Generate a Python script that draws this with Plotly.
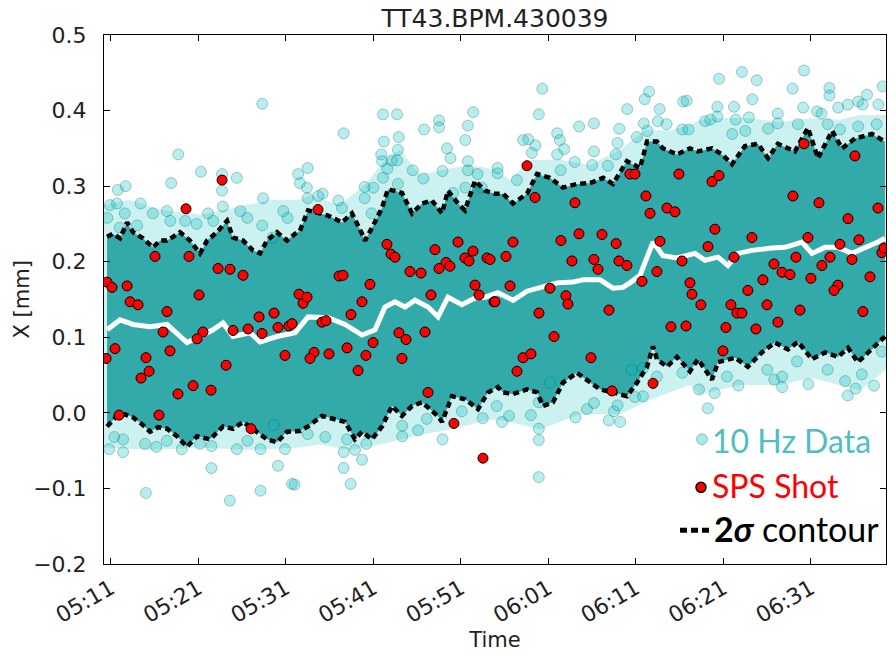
import pandas as pd
import plotly.graph_objects as go

# Time is stored as minutes after 05:11, positions in mm
START = pd.Timestamp("2016-06-14 05:11:00")

# Isolated 10 Hz readings around the dense band
hz_points = [
    (17.3, 0.409), (7.7, 0.342), (10.3, 0.319), (6.9, 0.304), (14.4, 0.311), (12.7, 0.294),
    (12.7, 0.316), (0.8, 0.295), (1.7, 0.300), (3.4, 0.277), (-0.1, 0.275), (0.7, 0.277),
    (-0.4, 0.258), (1.6, 0.264), (4.8, 0.264), (6.4, 0.267), (6.8, 0.254), (8.5, 0.254),
    (9.8, 0.250), (11.1, 0.264), (11.7, 0.254), (12.8, 0.273), (14.8, 0.267), (15.6, 0.258),
    (17.4, 0.284), (17.3, 0.248), (19.7, 0.267), (20.2, 0.258), (21.4, 0.316), (21.6, 0.304),
    (3.0, 0.248), (1.0, 0.245), (18.5, 0.232),
    (31.1, 0.395), (32.7, 0.395), (26.6, 0.370), (37.5, 0.387), (37.5, 0.378), (35.8, 0.375),
    (41.4, 0.398), (40.8, 0.380), (40.5, 0.361), (38.4, 0.350), (38.8, 0.337), (32.9, 0.365),
    (31.2, 0.359), (32.8, 0.348), (30.9, 0.342), (31.0, 0.333), (32.1, 0.334), (32.7, 0.334),
    (31.6, 0.323), (31.1, 0.311), (34.5, 0.321), (35.7, 0.310), (37.9, 0.320), (40.8, 0.333),
    (40.8, 0.321), (41.9, 0.316), (44.2, 0.324), (22.5, 0.324), (22.4, 0.298), (29.0, 0.299),
    (30.0, 0.298), (29.0, 0.284), (26.0, 0.281), (26.4, 0.271), (24.2, 0.290), (23.7, 0.287),
    (22.5, 0.284), (29.8, 0.264), (32.8, 0.303), (39.1, 0.291), (40.5, 0.298), (42.4, 0.298),
    (49.3, 0.429), (48.9, 0.395), (53.5, 0.379), (55.2, 0.383), (59.0, 0.402), (58.1, 0.376),
    (61.5, 0.425), (61.0, 0.415), (62.7, 0.402), (60.9, 0.383), (62.5, 0.386), (63.5, 0.382),
    (65.3, 0.375), (65.4, 0.412), (51.0, 0.370), (51.3, 0.361), (51.8, 0.349), (51.0, 0.342),
    (47.1, 0.361), (47.7, 0.362), (48.5, 0.354), (48.1, 0.344), (55.2, 0.346), (57.9, 0.357),
    (57.7, 0.342), (53.0, 0.332), (55.0, 0.328), (56.8, 0.327), (44.2, 0.317), (46.4, 0.308),
    (51.4, 0.321), (60.1, 0.365), (61.3, 0.373),
    (69.5, 0.442), (72.1, 0.451), (73.8, 0.440), (79.2, 0.453), (77.9, 0.429), (82.1, 0.430),
    (82.1, 0.420), (86.4, 0.421), (88.2, 0.432), (65.8, 0.413), (73.3, 0.415), (69.3, 0.405),
    (71.2, 0.405), (79.1, 0.404), (76.2, 0.396), (80.7, 0.399), (81.2, 0.396), (83.1, 0.404),
    (84.2, 0.408), (85.4, 0.412), (85.9, 0.408), (87.7, 0.408), (67.9, 0.386), (68.5, 0.388),
    (69.3, 0.392), (71.4, 0.388), (72.9, 0.391), (76.2, 0.383), (75.1, 0.376), (78.5, 0.382),
    (81.9, 0.382), (83.3, 0.375), (85.4, 0.379), (87.5, 0.382), (66.0, 0.375), (71.0, 0.369),
    (72.5, 0.373),
    (-0.2, -0.048), (1.4, -0.052), (0.4, -0.032), (1.4, -0.035), (3.9, -0.041), (5.2, -0.045),
    (6.4, -0.037), (8.1, -0.048), (10.2, -0.041), (11.5, -0.044), (11.5, -0.073), (4.0, -0.106),
    (13.6, -0.116), (14.4, -0.048), (15.6, -0.037), (17.1, -0.048), (17.1, -0.103), (18.6, -0.016),
    (19.1, -0.070), (19.9, -0.048), (20.7, -0.094), (21.0, -0.095), (27.4, -0.094), (26.6, -0.073),
    (28.7, -0.062), (26.6, -0.052), (27.9, -0.049), (29.2, -0.041), (27.0, -0.035), (24.5, -0.032),
    (22.5, -0.028), (33.3, -0.031), (35.1, -0.023), (37.9, -0.035), (36.1, -0.008), (33.3, -0.017),
    (40.1, 0.002), (42.5, -0.007), (44.1, 0.009), (48.9, -0.085), (48.9, -0.036), (48.9, -0.021),
    (44.7, -0.012), (45.5, -0.004), (48.0, -0.003), (48.9, 0.014), (53.1, -0.006), (54.4, 0.005),
    (55.2, 0.013), (56.9, -0.010), (58.2, -0.012), (57.5, 0.002), (57.9, 0.010), (59.9, 0.021),
    (60.8, 0.022), (59.5, 0.057), (60.8, 0.059), (62.4, 0.048), (65.3, 0.053), (50.2, 0.040),
    (68.2, 0.006), (67.2, 0.031), (69.0, 0.026), (70.4, 0.048), (71.7, 0.036), (75.8, 0.044),
    (76.7, 0.048), (76.7, 0.034), (78.4, 0.068), (79.7, 0.038), (81.9, 0.057), (83.9, 0.042),
    (85.1, 0.032), (84.2, 0.023), (87.2, 0.036), (85.8, 0.051), (88.1, 0.081), (75.0, 0.057),
]

# Outer edge of the sparse 10 Hz halo, above and below the band
halo_top = [
    (-0.78, 0.275), (2.19, 0.282), (5.62, 0.269), (10.19, 0.262), (14.76, 0.273), (18.19, 0.282),
    (21.61, 0.282), (22.76, 0.288), (26.18, 0.275), (29.04, 0.302), (31.33, 0.335), (33.03, 0.348),
    (35.33, 0.315), (38.18, 0.322), (41.04, 0.328), (43.89, 0.322), (45.60, 0.308), (47.89, 0.335),
    (51.31, 0.335), (54.74, 0.328), (58.17, 0.348), (61.02, 0.374), (63.88, 0.374), (66.17, 0.381),
    (67.31, 0.388), (69.59, 0.390), (73.02, 0.390), (76.45, 0.385), (79.87, 0.390), (83.30, 0.388),
    (85.59, 0.394), (88.57, 0.394),
]
halo_bottom = [
    (-0.78, -0.046), (4.48, -0.049), (10.19, -0.046), (15.90, -0.049), (21.61, -0.046), (23.90, -0.042),
    (27.33, -0.049), (30.76, -0.042), (35.33, -0.029), (38.76, -0.022), (43.33, -0.009), (44.47, -0.009),
    (49.04, -0.022), (53.61, -0.002), (58.17, -0.002), (61.60, 0.017), (66.17, 0.037), (67.31, 0.024),
    (71.88, 0.037), (76.45, 0.037), (80.02, 0.046), (85.59, 0.030), (88.57, 0.057),
]

# Upper 2-sigma contour
upper = [
    (-0.43, 0.233), (0.25, 0.237), (1.05, 0.231), (1.86, 0.252), (2.54, 0.239), (3.67, 0.231),
    (4.82, 0.219), (5.62, 0.228), (6.42, 0.228), (7.10, 0.233), (7.90, 0.239), (9.04, 0.228),
    (10.19, 0.211), (11.00, 0.228), (12.13, 0.239), (13.28, 0.254), (13.96, 0.232), (15.11, 0.228),
    (16.24, 0.215), (17.05, 0.211), (17.84, 0.228), (18.99, 0.239), (20.13, 0.228), (21.05, 0.237),
    (21.61, 0.241), (22.53, 0.268), (23.67, 0.265), (24.82, 0.261), (26.42, 0.252), (27.55, 0.264),
    (28.70, 0.237), (29.04, 0.228), (29.84, 0.245), (30.98, 0.271), (31.66, 0.296), (32.47, 0.294),
    (33.27, 0.291), (34.41, 0.264), (35.56, 0.277), (36.69, 0.281), (37.84, 0.264), (38.52, 0.294),
    (39.67, 0.277), (40.46, 0.268), (41.61, 0.307), (42.76, 0.294), (43.89, 0.290), (44.81, 0.290),
    (45.95, 0.277), (47.55, 0.290), (48.70, 0.316), (50.17, 0.311), (51.66, 0.298), (53.26, 0.303),
    (54.75, 0.304), (56.24, 0.311), (57.37, 0.303), (58.97, 0.333), (60.46, 0.324), (61.27, 0.359),
    (62.40, 0.359), (63.08, 0.350), (64.69, 0.342), (66.17, 0.350), (67.08, 0.346), (68.69, 0.350),
    (69.83, 0.342), (70.97, 0.329), (72.45, 0.353), (73.94, 0.356), (75.09, 0.337), (76.22, 0.356),
    (78.16, 0.346), (79.65, 0.377), (80.80, 0.337), (82.41, 0.373), (83.55, 0.350), (85.02, 0.363),
    (86.97, 0.369), (88.45, 0.359),
]

# Lower 2-sigma contour
lower = [
    (-0.43, -0.018), (0.71, -0.004), (1.62, -0.002), (2.54, -0.006), (3.56, -0.015), (4.48, -0.025),
    (5.39, -0.019), (6.42, -0.021), (7.56, -0.031), (8.70, -0.045), (9.85, -0.031), (11.34, -0.035),
    (12.82, -0.018), (13.96, -0.021), (15.11, -0.012), (16.71, -0.025), (17.84, -0.035), (18.99, -0.039),
    (20.13, -0.025), (21.61, -0.024), (22.53, -0.018), (24.13, -0.004), (25.61, -0.008), (26.76, -0.012),
    (27.89, -0.035), (28.70, -0.025), (29.84, -0.035), (30.98, -0.018), (32.13, 0.009), (33.27, -0.004),
    (34.41, 0.009), (35.56, 0.014), (37.35, -0.004), (37.84, -0.012), (38.98, 0.022), (40.46, 0.018),
    (41.95, 0.005), (43.10, 0.027), (44.23, 0.034), (44.81, 0.027), (45.95, 0.025), (47.55, 0.031),
    (48.70, 0.027), (49.38, 0.009), (50.52, 0.014), (51.66, 0.040), (53.26, 0.053), (54.75, 0.040),
    (55.90, 0.031), (57.37, 0.027), (58.97, 0.022), (60.12, 0.040), (61.27, 0.061), (61.95, 0.088),
    (62.40, 0.071), (63.55, 0.061), (64.69, 0.074), (66.17, 0.055), (67.08, 0.071), (68.69, 0.044),
    (69.37, 0.067), (71.32, 0.073), (72.79, 0.061), (74.39, 0.080), (75.88, 0.093), (77.37, 0.084),
    (78.52, 0.094), (80.11, 0.071), (81.60, 0.080), (83.08, 0.074), (84.23, 0.086), (85.36, 0.067),
    (86.97, 0.084), (88.45, 0.101),
]

# Running mean of the 10 Hz data
mean_line = [
    (-0.43, 0.110), (1.05, 0.123), (2.54, 0.117), (4.48, 0.114), (6.42, 0.117), (8.70, 0.093),
    (10.19, 0.101), (11.68, 0.110), (12.82, 0.119), (13.96, 0.101), (15.90, 0.106), (17.05, 0.094),
    (18.99, 0.101), (21.05, 0.106), (22.53, 0.127), (24.82, 0.126), (26.76, 0.117), (28.70, 0.103),
    (30.19, 0.110), (31.32, 0.140), (32.47, 0.147), (33.62, 0.140), (34.75, 0.149), (36.24, 0.140),
    (37.39, 0.127), (38.52, 0.153), (40.12, 0.143), (41.61, 0.152), (42.76, 0.153), (44.23, 0.159),
    (45.95, 0.149), (47.55, 0.161), (50.98, 0.172), (52.81, 0.173), (53.95, 0.176), (55.90, 0.176),
    (57.37, 0.165), (58.52, 0.166), (59.31, 0.172), (60.46, 0.182), (61.27, 0.206), (61.95, 0.226),
    (63.08, 0.208), (64.69, 0.205), (66.74, 0.211), (67.89, 0.202), (69.37, 0.206), (70.51, 0.195),
    (71.66, 0.211), (73.25, 0.215), (75.54, 0.218), (77.03, 0.219), (78.97, 0.226), (80.11, 0.211),
    (81.60, 0.219), (83.08, 0.219), (84.68, 0.211), (86.17, 0.218), (87.65, 0.226), (88.45, 0.231),
]

# Positions recorded for each SPS extraction
sps_shots = [
    (12.71, 0.308), (8.59, 0.270), (5.05, 0.207), (8.93, 0.207), (12.25, 0.191), (13.62, 0.190),
    (15.11, 0.182), (-0.43, 0.173), (0.14, 0.166), (1.86, 0.168), (10.08, 0.156), (2.20, 0.147),
    (3.11, 0.143), (6.42, 0.134), (5.97, 0.107), (10.53, 0.107), (9.85, 0.098), (0.48, 0.085),
    (-0.54, 0.072), (4.02, 0.073), (4.37, 0.055), (3.45, 0.046), (6.76, 0.082), (13.17, 0.063),
    (9.40, 0.036), (11.45, 0.030), (7.67, 0.025), (0.94, -0.003), (5.50, -0.003), (16.02, -0.021),
    (13.96, 0.109), (15.68, 0.111), (17.28, 0.105), (16.94, 0.127), (18.65, 0.132), (19.10, 0.113),
    (20.35, 0.115), (20.71, 0.118), (19.90, 0.076), (21.50, 0.157), (21.96, 0.145),
    (23.67, 0.269), (31.55, 0.223), (32.02, 0.210), (32.47, 0.206), (37.04, 0.216), (39.67, 0.226),
    (41.38, 0.214), (40.46, 0.205), (40.92, 0.201), (42.98, 0.205), (38.30, 0.199), (38.75, 0.194),
    (37.50, 0.191), (34.18, 0.187), (35.44, 0.185), (26.08, 0.181), (26.53, 0.182), (29.61, 0.170),
    (41.61, 0.169), (22.42, 0.153), (28.70, 0.147), (36.58, 0.156), (42.07, 0.156), (43.78, 0.147),
    (27.44, 0.130), (24.13, 0.120), (24.59, 0.122), (32.92, 0.106), (33.73, 0.097), (35.90, 0.107),
    (29.96, 0.093), (23.22, 0.080), (22.76, 0.072), (24.93, 0.078), (26.99, 0.086), (29.15, 0.076),
    (33.27, 0.072), (28.25, 0.056), (36.24, 0.027), (39.20, -0.014), (42.52, -0.060),
    (47.55, 0.327), (48.47, 0.285), (53.03, 0.278), (59.31, 0.316), (59.89, 0.316), (64.91, 0.316),
    (61.14, 0.287), (61.61, 0.264), (63.55, 0.271), (64.46, 0.266), (45.95, 0.226), (51.43, 0.228),
    (53.49, 0.237), (56.12, 0.236), (57.73, 0.224), (62.74, 0.227), (45.15, 0.207), (43.33, 0.203),
    (52.69, 0.201), (55.20, 0.203), (55.66, 0.190), (58.06, 0.201), (58.97, 0.195), (65.26, 0.201),
    (62.40, 0.187), (60.69, 0.174), (45.61, 0.168), (50.17, 0.165), (66.17, 0.172), (66.40, 0.157),
    (43.89, 0.147), (52.00, 0.155), (52.23, 0.144), (48.92, 0.132), (56.92, 0.136), (50.64, 0.101),
    (64.00, 0.114), (65.72, 0.115), (47.10, 0.073), (48.00, 0.078), (46.41, 0.055), (54.86, 0.073),
    (57.26, 0.029), (61.95, 0.039),
    (79.20, 0.356), (85.02, 0.340), (68.69, 0.306), (69.49, 0.314), (77.94, 0.287), (80.91, 0.278),
    (87.65, 0.271), (84.23, 0.257), (69.02, 0.243), (68.23, 0.220), (73.25, 0.232), (79.65, 0.232),
    (83.31, 0.223), (85.48, 0.229), (88.10, 0.212), (88.34, 0.218), (71.20, 0.206), (78.28, 0.206),
    (82.17, 0.206), (84.68, 0.203), (75.77, 0.197), (81.25, 0.195), (76.69, 0.186), (77.60, 0.183),
    (74.51, 0.176), (79.99, 0.178), (86.74, 0.180), (83.08, 0.169), (72.79, 0.162), (82.63, 0.162),
    (67.42, 0.143), (70.85, 0.143), (74.97, 0.143), (71.54, 0.132), (72.11, 0.132), (78.74, 0.136),
    (85.94, 0.134), (76.22, 0.120), (70.28, 0.113), (73.71, 0.111), (69.94, 0.082),
]

TICK_MINUTES = [0, 10, 20, 30, 40, 50, 60, 70, 80]
X_RANGE_MIN = (-0.78, 88.57)
Y_TICKS = [-0.2, -0.1, 0.0, 0.1, 0.2, 0.3, 0.4, 0.5]


def to_time(minutes):
    return START + pd.to_timedelta(list(minutes), unit="min")


def split(pairs):
    t, v = zip(*pairs)
    return to_time(t), list(v)


def band(top, bottom):
    """Closed outline running along `top` and back along `bottom`."""
    tt, tv = split(top)
    bt, bv = split(bottom)
    return list(tt) + list(bt[::-1]), tv + bv[::-1]


hz_time, hz_val = split(hz_points)
up_time, up_val = split(upper)
lo_time, lo_val = split(lower)
mean_time, mean_val = split(mean_line)
sps_time, sps_val = split(sps_shots)

TEAL_FILL = "rgba(0,191,191,0.28)"
TEAL_EDGE = "rgba(0,85,85,0.30)"
HALO = "rgba(0,185,185,0.20)"
CORE = "rgb(50,170,170)"
FONT = "DejaVu Sans"
TXT = "#222222"

fig = go.Figure()

# sparse halo of the 10 Hz data
hx, hy = band(halo_top, halo_bottom)
fig.add_trace(go.Scatter(x=hx, y=hy, fill="toself", fillcolor=HALO, mode="lines",
                         line=dict(width=0), hoverinfo="skip", showlegend=False))

# dense body of the 10 Hz data, bounded by the 2-sigma contours
cx, cy = band(upper, lower)
fig.add_trace(go.Scatter(x=cx, y=cy, fill="toself", fillcolor=CORE, mode="lines",
                         line=dict(width=0), hoverinfo="skip", showlegend=False))

fig.add_trace(go.Scatter(
    x=hz_time, y=hz_val, mode="markers",
    marker=dict(size=11, color=TEAL_FILL, line=dict(color=TEAL_EDGE, width=1)),
    showlegend=False,
))

fig.add_trace(go.Scatter(
    x=mean_time, y=mean_val, mode="lines",
    line=dict(color="white", width=5), showlegend=False,
))

for t, v in ((up_time, up_val), (lo_time, lo_val)):
    fig.add_trace(go.Scatter(
        x=t, y=v, mode="lines",
        line=dict(color="black", width=4.5, dash="6px,4px"), showlegend=False,
    ))

fig.add_trace(go.Scatter(
    x=sps_time, y=sps_val, mode="markers",
    marker=dict(size=10, color="#ff0000", line=dict(color="black", width=1)),
    showlegend=False,
))

axis_common = dict(
    showline=True, linecolor="black", linewidth=1, mirror="ticks", automargin=False,
    ticks="inside", ticklen=6, tickcolor="black", showgrid=False, zeroline=False,
    tickfont=dict(family=FONT, size=22, color=TXT),
)

fig.update_layout(
    width=896, height=656,
    margin=dict(l=104, r=10, t=35, b=92),
    paper_bgcolor="white", plot_bgcolor="white",
    title=dict(text="TT43.BPM.430039", x=0.5, xref="paper", xanchor="center",
               y=1 - 18 / 656, yref="container", yanchor="middle",
               font=dict(family=FONT, size=25, color=TXT)),
    xaxis=dict(
        type="date", range=list(to_time(X_RANGE_MIN)),
        tickvals=list(to_time(TICK_MINUTES)), tickformat="%H:%M", tickangle=-30,
        ticklabelstandoff=2,
        title=dict(text="Time", font=dict(family=FONT, size=21, color=TXT), standoff=3),
        **axis_common,
    ),
    yaxis=dict(
        range=[-0.2, 0.5], tickvals=Y_TICKS, tickformat=".1f", ticklabelstandoff=12,
        **axis_common,
    ),
    showlegend=False,
)

# y-axis label, placed by hand
fig.add_annotation(x=-0.1049, y=0.5, xref="paper", yref="paper", textangle=-90,
                   xanchor="center", yanchor="middle", showarrow=False,
                   text="X [mm]", font=dict(family=FONT, size=21, color=TXT))

# hand-drawn key in the lower right corner
LEG_FONT = "Lato"
fig.add_shape(type="circle", xref="paper", yref="paper",
              x0=0.7647 - 0.0070, x1=0.7647 + 0.0070, y0=0.236 - 0.0104, y1=0.236 + 0.0104,
              fillcolor="rgba(0,191,191,0.35)", line=dict(color="rgba(0,110,110,0.35)", width=1))
fig.add_shape(type="circle", xref="paper", yref="paper",
              x0=0.7634 - 0.0064, x1=0.7634 + 0.0064, y0=0.145 - 0.0095, y1=0.145 + 0.0095,
              fillcolor="#ff0000", line=dict(color="black", width=1.5))
fig.add_shape(type="line", xref="paper", yref="paper",
              x0=0.7366, x1=0.7749, y0=0.0638, y1=0.0638,
              line=dict(color="black", width=5, dash="7px,4px"))

for text, color, xp, yp, size in (
    ("10 Hz Data", "#4fbec2", 0.7755, 0.234, 32),
    ("SPS Shot", "#ff0000", 0.7745, 0.148, 32),
    ("<b>2<i>σ</i></b> contour", "black", 0.7770, 0.067, 34),
):
    fig.add_annotation(x=xp, y=yp, xref="paper", yref="paper",
                       xanchor="left", yanchor="middle", showarrow=False,
                       text=text, font=dict(family=LEG_FONT, size=size, color=color))

fig.write_html("out.html")
